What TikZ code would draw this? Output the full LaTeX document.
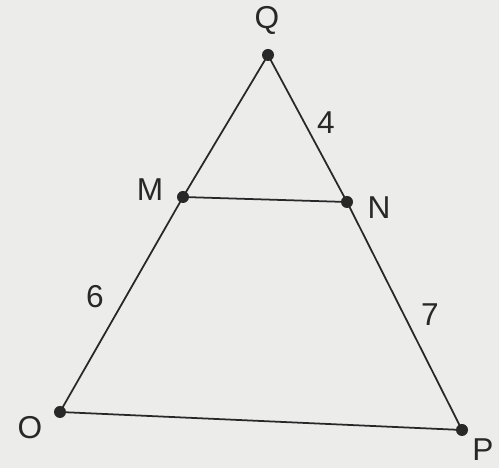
\documentclass[tikz,border=0pt]{standalone}
\usepackage{fontspec}
\setmainfont{Liberation Sans}
\usepackage{tikz}
\usetikzlibrary{positioning,calc}
\usepackage{xcolor}
\definecolor{paper}{RGB}{236,237,235}
\definecolor{inkgray}{RGB}{40,40,40}

\tikzset{
  pt/.style={circle, fill=inkgray, inner sep=0pt, minimum size=2.4mm},
  lbl/.style={font=\fontsize{18}{20}\selectfont, text=inkgray},
  side/.style={line width=1pt, draw=inkgray}
}

\begin{document}
\begin{tikzpicture}
  \fill[paper] (0,0) rectangle (9.98,9.36);
  \useasboundingbox (0,0) rectangle (9.98,9.36);
  % vertices
  \node[pt] (Q) at (5.36,8.26) {};
  \node[pt] (M) at (3.66,5.42) {};
  \node[pt] (N) at (6.94,5.32) {};
  \node[pt] (O) at (1.20,1.12) {};
  \node[pt] (P) at (9.24,0.76) {};
  % sides
  \draw[side] (Q.center) -- (M.center) -- (O.center) -- (P.center) -- (N.center) -- (Q.center);
  \draw[side] (M.center) -- (N.center);
  % names
  \node[lbl] (lQ) at (5.34,8.96) {Q};
  \node[lbl] (lM) at (3.00,5.56) {M};
  \node[lbl] (lN) at (7.58,5.20) {N};
  \node[lbl] (lO) at (0.60,0.80) {O};
  \node[lbl] (lP) at (9.66,0.36) {P};
  % lengths
  \node[lbl] (l4) at (6.52,6.90) {4};
  \node[lbl] (l6) at (1.90,3.42) {6};
  \node[lbl] (l7) at (8.60,3.06) {7};
\end{tikzpicture}
\end{document}
